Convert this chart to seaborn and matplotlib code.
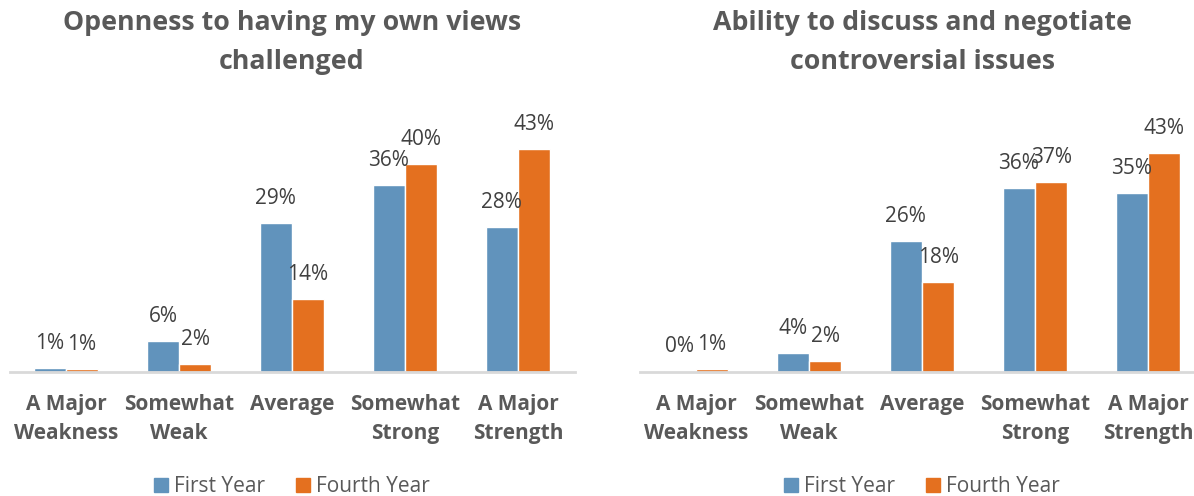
"""Two grouped bar charts: first vs fourth year self-ratings."""

import matplotlib.pyplot as plt
import seaborn as sns
import pandas as pd
from matplotlib.patches import Patch

levels = ["A Major\nWeakness", "Somewhat\nWeak", "Average", "Somewhat\nStrong", "A Major\nStrength"]
years = ["First Year", "Fourth Year"]

openness_first = [0.8, 6.0, 28.8, 36.0, 27.9]
openness_fourth = [0.6, 1.6, 14.0, 40.0, 43.0]

discuss_first = [0.2, 3.7, 25.7, 36.0, 35.0]
discuss_fourth = [0.6, 2.2, 17.6, 37.2, 42.9]

titles = ["Openness to having my own views\nchallenged",
          "Ability to discuss and negotiate\ncontroversial issues"]

colors = ["#6193BC", "#E4701F"]
grey = "#595959"


def to_long(first, fourth):
    return pd.DataFrame({
        "level": levels * 2,
        "pct": first + fourth,
        "year": [years[0]] * len(levels) + [years[1]] * len(levels),
    })


sns.set_style("white")
plt.rcParams["font.family"] = ["Open Sans", "DejaVu Sans"]

W, H = 1194, 496
fig = plt.figure(figsize=(W / 100, H / 100), dpi=100)

panels = [
    (to_long(openness_first, openness_fourth), 9.5, 52.4),
    (to_long(discuss_first, discuss_fourth), 639.5, 53.2),
]

for (df, left_px, ytop), title in zip(panels, titles):
    ax = fig.add_axes([left_px / W, 124 / H, 565 / W, 272 / H])
    sns.barplot(data=df, x="level", y="pct", hue="year", order=levels, hue_order=years,
                palette=colors, saturation=1, width=0.57, gap=0, legend=False, ax=ax,
                errorbar=None)
    ax.set_ylim(0, ytop)
    ax.set_xlim(-0.5, 4.5)

    for cont in ax.containers:
        ax.bar_label(cont, labels=[f"{b.get_height():.0f}%" for b in cont],
                     padding=10, fontsize=15, color="#404040")

    for s in ["top", "left", "right"]:
        ax.spines[s].set_visible(False)
    ax.spines["bottom"].set_color("#d9d9d9")
    ax.spines["bottom"].set_linewidth(2)
    ax.set_yticks([])
    ax.set_xlabel("")
    ax.set_ylabel("")
    ax.tick_params(axis="x", length=0, pad=16)
    for lab in ax.get_xticklabels():
        lab.set_fontweight("bold")
        lab.set_fontsize(15)
        lab.set_color(grey)
        lab.set_linespacing(1.5)

    cx = (left_px + 282.5) / W
    fig.text(cx, 1 - 42.5 / H, title, ha="center", va="center", fontsize=19.3,
             fontweight="bold", color=grey, linespacing=1.62)

    handles = [Patch(color=c, label=y) for c, y in zip(colors, years)]
    ax.legend(handles=handles, loc="center", bbox_to_anchor=(0.5, -0.422), ncol=2,
              frameon=False, fontsize=15, labelcolor=grey, handlelength=0.65,
              handleheight=0.65, handletextpad=0.3, columnspacing=1.5)

plt.savefig("out.png", dpi=100)
plt.close()
